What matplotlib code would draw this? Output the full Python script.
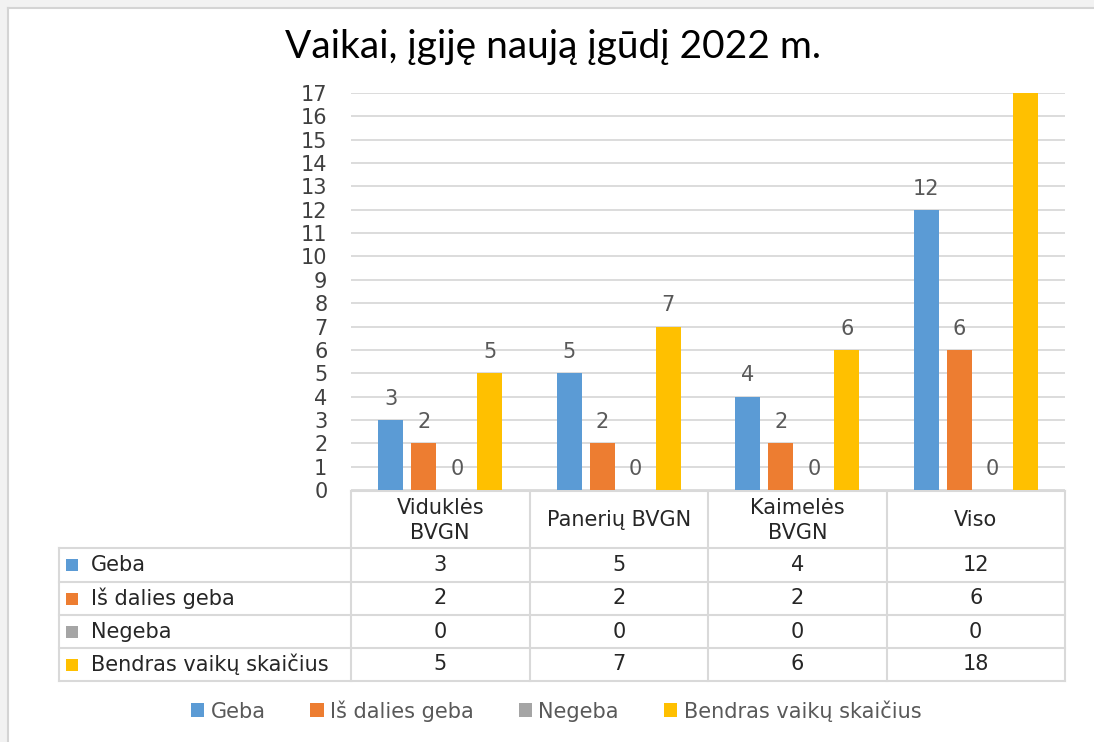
import matplotlib
matplotlib.use("Agg")
import matplotlib.pyplot as plt
from matplotlib.transforms import blended_transform_factory
from matplotlib.patches import Rectangle
from matplotlib.lines import Line2D

# ---------------- data ----------------
title = "Vaikai, įgiję naują įgūdį 2022 m."
categories = ["Viduklės\nBVGN", "Panerių BVGN", "Kaimelės\nBVGN", "Viso"]
series_names = ["Geba", "Iš dalies geba", "Negeba", "Bendras vaikų skaičius"]
geba = [3, 5, 4, 12]
is_dalies = [2, 2, 2, 6]
negeba = [0, 0, 0, 0]
bendras = [5, 7, 6, 18]
series_values = [geba, is_dalies, negeba, bendras]
colors = ["#5B9BD5", "#ED7D31", "#A5A5A5", "#FFC000"]
yticks = list(range(0, 18))
ymax = 17

FS = 15
FONT = "DejaVu Sans"

# ---------------- layout ----------------
W, H = 1094, 742
fig = plt.figure(figsize=(W / 100, H / 100), dpi=100)
fig.patch.set_facecolor("white")

# overlay in pixel coordinates
ov = fig.add_axes([0, 0, 1, 1], zorder=0)
ov.set_xlim(0, W)
ov.set_ylim(H, 0)
ov.axis("off")

# outer frame / shadow
ov.add_patch(Rectangle((0, 0), W, 7, facecolor="#f2f2f2", edgecolor="none"))
ov.add_patch(Rectangle((0, 0), 7, H, facecolor="#f2f2f2", edgecolor="none"))
ov.add_line(Line2D([8, W], [8, 8], color="#d4d4d4", lw=1.5))
ov.add_line(Line2D([8, 8], [8, H], color="#d4d4d4", lw=1.5))

px_l, px_r, px_t, px_b = 351, 1065, 93, 490
ax = fig.add_axes([px_l / W, 1 - px_b / H, (px_r - px_l) / W, (px_b - px_t) / H], zorder=2)
ax.set_facecolor("none")

n = len(categories)
step = 0.185
bw = 0.14
for k, (name, vals, col) in enumerate(zip(series_names, series_values, colors)):
    xs = [i + (k - 1.5) * step for i in range(n)]
    ax.bar(xs, vals, width=bw, color=col, label=name, zorder=3)
    for x, v in zip(xs, vals):
        if v <= ymax:
            ax.annotate(str(v), (x, v), xytext=(0, 8), textcoords="offset points",
                        ha="center", va="bottom", fontsize=FS, color="#595959",
                        family=FONT)

ax.set_xlim(-0.5, n - 0.5)
ax.set_ylim(0, ymax)
ax.set_yticks(yticks)
ax.set_yticklabels([str(t) for t in yticks], fontsize=FS, color="#404040", family=FONT)
ax.tick_params(axis="y", length=0, pad=17)
ax.set_xticks([])
ax.grid(axis="y", color="#d9d9d9", lw=1.3, zorder=0)
for s in ax.spines.values():
    s.set_visible(False)

# title
fig.text(553 / W, 1 - 47 / H, title, ha="center", va="center", fontsize=28,
         family="Lato", color="#000000")

# ---------------- data table ----------------
tr = blended_transform_factory(ax.transData, ov.transData)
lc = "#d9d9d9"
row_y = [548, 582, 615, 648, 681]
head_top = 491
tbl_left = 59
ov.add_line(Line2D([px_l, px_r], [head_top, head_top], color=lc, lw=1.5))
for y in row_y:
    ov.add_line(Line2D([tbl_left, px_r], [y, y], color=lc, lw=1.5))
ov.add_line(Line2D([tbl_left, tbl_left], [row_y[0], row_y[-1]], color=lc, lw=1.5))
for i in range(n + 1):
    xl = i - 0.5
    ov.add_line(Line2D([xl, xl], [head_top, row_y[-1]], color=lc, lw=1.5, transform=tr))

# header labels
for i, c in enumerate(categories):
    ov.text(i, (head_top + row_y[0]) / 2 + 1, c, transform=tr, ha="center",
            va="center", fontsize=FS, color="#262626", family=FONT,
            linespacing=1.3)

# rows
for r, (name, vals, col) in enumerate(zip(series_names, series_values, colors)):
    yc = (row_y[r] + row_y[r + 1]) / 2
    ov.add_patch(Rectangle((66, yc - 6), 12, 12, facecolor=col, edgecolor="none"))
    ov.text(91, yc, name, ha="left", va="center", fontsize=FS, color="#262626",
            family=FONT)
    for i, v in enumerate(vals):
        ov.text(i, yc, str(v), transform=tr, ha="center", va="center",
                fontsize=FS, color="#262626", family=FONT)

# legend
handles = [Rectangle((0, 0), 1, 1, facecolor=c, edgecolor="none") for c in colors]
leg = fig.legend(handles, series_names, loc="center", bbox_to_anchor=(556 / W, 1 - 711 / H),
                 ncol=4, frameon=False, handlelength=0.65, handleheight=0.65,
                 handletextpad=0.3, columnspacing=2.15,
                 prop={"family": FONT, "size": 15})
for t in leg.get_texts():
    t.set_color("#595959")

fig.savefig("out.png", dpi=100, facecolor="white")
